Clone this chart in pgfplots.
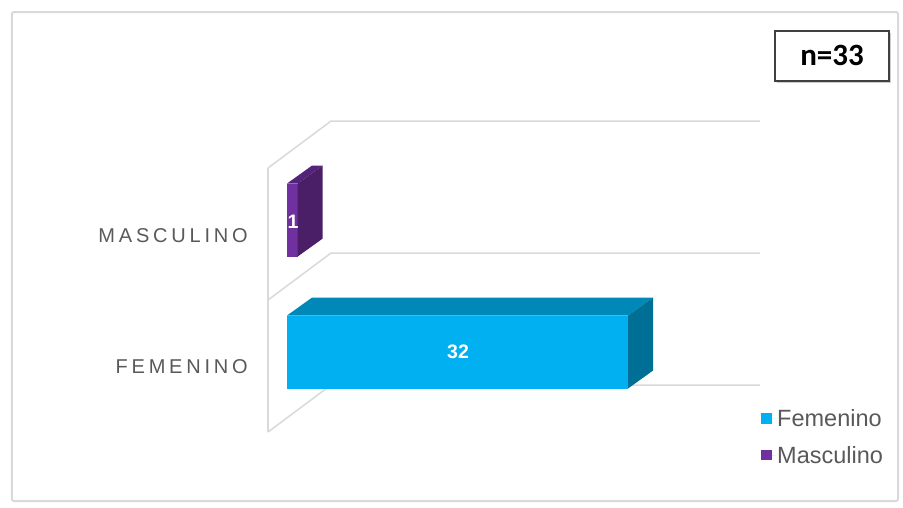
\documentclass[border=0pt]{standalone}
\usepackage{pgfplots}
\pgfplotsset{compat=1.18}
\usetikzlibrary{shadows}
\usepackage{fontspec}
\setmainfont{Liberation Sans}
\newfontfamily\carlito{Carlito}
\newfontfamily\catfont[LetterSpace=19]{Liberation Sans}
\definecolor{fem}{RGB}{0,176,240}
\definecolor{femtop}{RGB}{0,136,184}
\definecolor{femside}{RGB}{0,111,149}
\definecolor{mas}{RGB}{112,48,160}
\definecolor{mastop}{RGB}{84,36,122}
\definecolor{masside}{RGB}{74,31,104}
\definecolor{gridc}{RGB}{217,217,217}
\definecolor{txt}{RGB}{89,89,89}
\begin{document}
\begin{tikzpicture}
\begin{axis}[
  scale only axis, width=903pt, height=507pt,
  xmin=-26.933, xmax=57.808, ymin=-1.174, ymax=2.667,
  axis lines=none, clip=false,
  legend style={at={(axis cs:44.48,-0.42)}, anchor=north west, draw=none, fill=none,
    font=\fontsize{23.5}{27}\selectfont, text=txt, row sep=14pt, inner sep=0pt,
    /tikz/every odd column/.append style={column sep=0pt}},
  legend cell align=left,
]
% full picture area (bounding box)
\path (rel axis cs:0,0) rectangle (rel axis cs:1,1);
% outer frame
\draw[gray!30, line width=2pt, rounded corners=2pt] (axis cs:-25.81,2.576) rectangle (axis cs:57.34,-1.129);
% walls
\addplot[gridc, line width=1.5pt, forget plot] coordinates {(-1.783,1.394) (4.129,1.750) (44.39,1.750)};
\addplot[gridc, line width=1.5pt, forget plot] coordinates {(-1.783,0.394) (4.129,0.750) (44.39,0.750)};
\addplot[gridc, line width=1.5pt, forget plot] coordinates {(-1.783,-0.606) (4.129,-0.250) (44.39,-0.250)};
\addplot[gridc, line width=1.5pt, forget plot] coordinates {(-1.783,1.394) (-1.783,-0.606)};
% bars (front faces)
\addplot[xbar, bar width=0.553, bar shift=0pt, fill=fem, draw=none,
  legend image code/.code={\path (0pt,0pt) -- (14pt,0pt); \fill[fem] (0pt,-5pt) rectangle (10.5pt,5.5pt);}] coordinates {(32,0)};
\addplot[xbar, bar width=0.553, bar shift=0pt, fill=mas, draw=none,
  legend image code/.code={\path (0pt,0pt) -- (14pt,0pt); \fill[mas] (0pt,-5pt) rectangle (10.5pt,5.5pt);}] coordinates {(1,1)};
% 3D faces
\addplot[fill=femtop, draw=none, forget plot] coordinates {(0,0.2765) (32,0.2765) (34.346,0.4125) (2.346,0.4125)} -- cycle;
\addplot[fill=femside, draw=none, forget plot] coordinates {(32,-0.2765) (32,0.2765) (34.346,0.4125) (34.346,-0.1405)} -- cycle;
\addplot[fill=mastop, draw=none, forget plot] coordinates {(0,1.2765) (1,1.2765) (3.346,1.4125) (2.346,1.4125)} -- cycle;
\addplot[fill=masside, draw=none, forget plot] coordinates {(1,0.7235) (1,1.2765) (3.346,1.4125) (3.346,0.8595)} -- cycle;
\legend{Femenino, Masculino}
% data labels
\node[text=white, font=\bfseries\fontsize{19.5}{22}\selectfont] at (axis cs:16.05,0) {32};
\node[text=white, font=\bfseries\fontsize{19.5}{22}\selectfont] at (axis cs:0.56,0.985) {1};
% category labels
\node[anchor=east, text=txt, font=\catfont\fontsize{20}{24}\selectfont, inner sep=0pt] at (axis cs:-3.66,0.879) {MASCULINO};
\node[anchor=east, text=txt, font=\catfont\fontsize{20}{24}\selectfont, inner sep=0pt] at (axis cs:-3.66,-0.114) {FEMENINO};
% n box
\node[draw=black!75, line width=2pt, fill=white, minimum width=114pt, minimum height=50pt,
  drop shadow={shadow xshift=2pt, shadow yshift=-2pt, opacity=0.4},
  font=\carlito\bfseries\fontsize{31}{36}\selectfont] at (axis cs:51.15,2.244) {n=33};
\end{axis}
\end{tikzpicture}
\end{document}
